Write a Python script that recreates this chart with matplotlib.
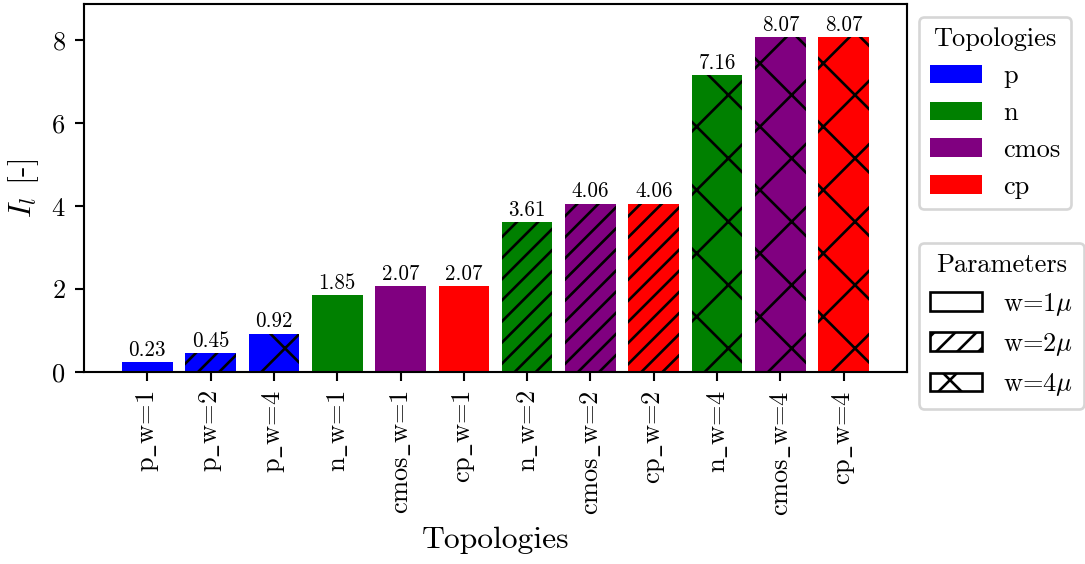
import matplotlib
matplotlib.use("Agg")
import matplotlib.pyplot as plt
from matplotlib.patches import Patch
import numpy as np

# -------------------------
# Data
# -------------------------
labels = [r"p$\_$w=1", r"p$\_$w=2", r"p$\_$w=4", r"n$\_$w=1", r"cmos$\_$w=1", r"cp$\_$w=1",
          r"n$\_$w=2", r"cmos$\_$w=2", r"cp$\_$w=2", r"n$\_$w=4", r"cmos$\_$w=4", r"cp$\_$w=4"]
values = [0.23, 0.45, 0.92, 1.85, 2.07, 2.07, 3.61, 4.06, 4.06, 7.16, 8.07, 8.07]
topology = ["p", "p", "p", "n", "cmos", "cp", "n", "cmos", "cp", "n", "cmos", "cp"]
width_um = [1, 2, 4, 1, 1, 1, 2, 2, 2, 4, 4, 4]

topologies = ["p", "n", "cmos", "cp"]
topo_colors = {"p": "blue", "n": "green", "cmos": "purple", "cp": "red"}
widths = [1, 2, 4]
width_hatch = {1: "", 2: "///", 4: "x"}

plt.rcParams["font.family"] = "cmr10"
plt.rcParams["mathtext.fontset"] = "cm"
plt.rcParams["axes.formatter.use_mathtext"] = True
plt.rcParams["font.size"] = 10

DPI = 190
fig = plt.figure(figsize=(1085 / DPI, 564 / DPI), dpi=DPI)
ax = fig.add_axes([84 / 1085, 1 - 372 / 564, (907 - 84) / 1085, (372 - 4) / 564])

x = np.arange(len(labels))
bars = ax.bar(x, values, width=0.8,
              color=[topo_colors[t] for t in topology],
              hatch=[width_hatch[w] for w in width_um],
              linewidth=0)
ax.bar_label(bars, fmt="%.2f", padding=1, fontsize=8)

ax.set_xlim(-1, 12)
ax.set_ylim(0, max(values) * 1.1)
ax.set_xticks(x)
ax.set_xticklabels(labels, rotation=90)
ax.set_yticks([0, 2, 4, 6, 8])
ax.set_xlabel("Topologies", fontsize=12)
ax.set_ylabel(r"$I_l$ [-]", fontsize=12)

topo_handles = [Patch(facecolor=topo_colors[t], label=t) for t in topologies]
leg1 = ax.legend(handles=topo_handles, title="Topologies", loc="upper left",
                 bbox_to_anchor=(1.0146, 0.965), borderaxespad=0)
ax.add_artist(leg1)

param_handles = [Patch(facecolor="white", edgecolor="black",
                       hatch=width_hatch[w], label=rf"w={w}$\mu$") for w in widths]
ax.legend(handles=param_handles, title="Parameters", loc="upper left",
          bbox_to_anchor=(1.0146, 0.35), borderaxespad=0)

plt.savefig("out.png", dpi=DPI)
plt.close()
